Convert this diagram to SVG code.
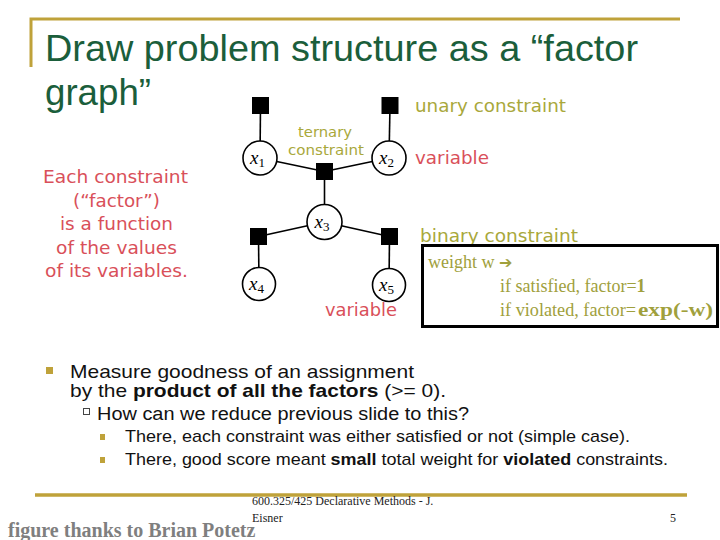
<svg xmlns="http://www.w3.org/2000/svg" width="720" height="540" viewBox="0 0 720 540">
<style>
.title{font-family:"Liberation Sans",Arial,sans-serif;font-size:36px;fill:#1b5e3b}
.gold{stroke:#bfa23a;fill:none}
.olive{font-family:"DejaVu Sans",sans-serif;fill:#a9a83b}
.red{font-family:"DejaVu Sans",sans-serif;fill:#d9505a}
.body{font-family:"Liberation Sans",Arial,sans-serif;fill:#111}
.edge{stroke:#000;stroke-width:1.6}
.var{fill:#fff;stroke:#000;stroke-width:1.6}
.fac{fill:#000}
.vl{font-family:"Liberation Serif",serif;font-style:italic;font-size:19px;fill:#000}
.sub{font-family:"Liberation Serif",serif;font-style:normal;font-size:13px}
.box{font-family:"Liberation Serif",serif;font-size:18px;fill:#a0a03c}
.foot{font-family:"Liberation Serif",serif;font-size:12px;fill:#222}
</style>
<rect width="720" height="540" fill="#fff"/>
<path class="gold" stroke-width="3" d="M31 67 V19 H680"/>
<path class="gold" stroke-width="3.5" d="M35 495 H687"/>
<text class="title" x="45" y="61" textLength="593" lengthAdjust="spacingAndGlyphs">Draw problem structure as a “factor</text>
<text class="title" x="45" y="105" textLength="106" lengthAdjust="spacingAndGlyphs">graph”</text>
<g id="connectors">
<line class="edge" x1="260.5" y1="106" x2="260" y2="158"/>
<line class="edge" x1="390" y1="106" x2="389" y2="158"/>
<line class="edge" x1="260" y1="158" x2="324.5" y2="171.5"/>
<line class="edge" x1="389" y1="158" x2="324.5" y2="171.5"/>
<line class="edge" x1="324.5" y1="171.5" x2="324.5" y2="222"/>
<line class="edge" x1="324.5" y1="222" x2="258.5" y2="236.5"/>
<line class="edge" x1="324.5" y1="222" x2="389.5" y2="236.5"/>
<line class="edge" x1="258.5" y1="236.5" x2="259" y2="284"/>
<line class="edge" x1="389.5" y1="236.5" x2="389" y2="285"/>
</g>
<g id="f1"><rect class="fac" x="252" y="97" width="17" height="17"/></g>
<g id="f2"><rect class="fac" x="381.5" y="97" width="17" height="17"/></g>
<g id="f3"><rect class="fac" x="316" y="163" width="17" height="17"/></g>
<g id="f4"><rect class="fac" x="250" y="228" width="17" height="17"/></g>
<g id="f5"><rect class="fac" x="381" y="228" width="17" height="17"/></g>
<g id="x1"><circle class="var" cx="260" cy="158" r="17"/><text class="vl" x="250" y="164">x<tspan class="sub" dy="3">1</tspan></text></g>
<g id="x2"><circle class="var" cx="389" cy="158" r="17"/><text class="vl" x="379" y="164">x<tspan class="sub" dy="3">2</tspan></text></g>
<g id="x3"><circle class="var" cx="324.5" cy="222" r="17.5"/><text class="vl" x="314.5" y="228">x<tspan class="sub" dy="3">3</tspan></text></g>
<g id="x4"><circle class="var" cx="259" cy="284" r="16.5"/><text class="vl" x="249" y="290">x<tspan class="sub" dy="3">4</tspan></text></g>
<g id="x5"><circle class="var" cx="389" cy="285" r="16.5"/><text class="vl" x="379" y="291">x<tspan class="sub" dy="3">5</tspan></text></g>
<text class="olive" x="415" y="112" font-size="17" textLength="151" lengthAdjust="spacingAndGlyphs">unary constraint</text>
<text class="olive" x="298" y="137" font-size="14" textLength="54" lengthAdjust="spacingAndGlyphs">ternary</text>
<text class="olive" x="288" y="155" font-size="14" textLength="76" lengthAdjust="spacingAndGlyphs">constraint</text>
<text class="red" x="415" y="164" font-size="17" textLength="74" lengthAdjust="spacingAndGlyphs">variable</text>
<text class="red" x="325" y="316" font-size="17" textLength="72" lengthAdjust="spacingAndGlyphs">variable</text>
<text class="olive" x="420" y="242" font-size="17" textLength="158" lengthAdjust="spacingAndGlyphs">binary constraint</text>
<g class="red" font-size="17">
<text x="43" y="183" textLength="145" lengthAdjust="spacingAndGlyphs">Each constraint</text>
<text x="73" y="206.5" textLength="87" lengthAdjust="spacingAndGlyphs">(“factor”)</text>
<text x="60" y="230" textLength="113" lengthAdjust="spacingAndGlyphs">is a function</text>
<text x="56" y="253.5" textLength="121" lengthAdjust="spacingAndGlyphs">of the values</text>
<text x="45" y="277" textLength="143" lengthAdjust="spacingAndGlyphs">of its variables.</text>
</g>
<rect x="422.5" y="245.5" width="295" height="81" fill="none" stroke="#000" stroke-width="3"/>
<text class="box" x="428" y="268">weight w <tspan font-family="DejaVu Sans,sans-serif" font-weight="bold" font-size="16">➔</tspan></text>
<text class="box" x="500" y="292" font-size="16.5">if satisfied, factor=<tspan font-weight="bold">1</tspan></text>
<text class="box" x="500" y="316" textLength="136" lengthAdjust="spacingAndGlyphs">if violated, factor=</text>
<text class="box" x="638" y="316" font-weight="bold" textLength="75" lengthAdjust="spacingAndGlyphs">exp(-w)</text>
<rect x="46" y="367" width="7" height="7" fill="#bfa23a"/>
<text class="body" x="70" y="378" font-size="19" textLength="344" lengthAdjust="spacingAndGlyphs">Measure goodness of an assignment</text>
<text class="body" x="70" y="397" font-size="19" textLength="376" lengthAdjust="spacingAndGlyphs">by the <tspan font-weight="bold">product of all the factors</tspan> (&gt;= 0).</text>
<rect x="83.5" y="408.5" width="6" height="6" fill="none" stroke="#444" stroke-width="1"/>
<text class="body" x="97" y="420" font-size="18" textLength="372" lengthAdjust="spacingAndGlyphs">How can we reduce previous slide to this?</text>
<rect x="100" y="434" width="5" height="6" fill="#bfa23a"/>
<text class="body" x="125" y="442" font-size="17" textLength="505" lengthAdjust="spacingAndGlyphs">There, each constraint was either satisfied or not (simple case).</text>
<rect x="100" y="457" width="5" height="6" fill="#bfa23a"/>
<text class="body" x="125" y="465" font-size="17" textLength="543" lengthAdjust="spacingAndGlyphs">There, good score meant <tspan font-weight="bold">small</tspan> total weight for <tspan font-weight="bold">violated</tspan> constraints.</text>
<text class="foot" x="252" y="505">600.325/425 Declarative Methods - J.</text>
<text class="foot" x="252" y="522">Eisner</text>
<text class="foot" x="670" y="522">5</text>
<text x="8" y="537" font-family="Liberation Serif,serif" font-weight="bold" font-size="20" fill="#7f7f7f">figure thanks to Brian Potetz</text>
</svg>
